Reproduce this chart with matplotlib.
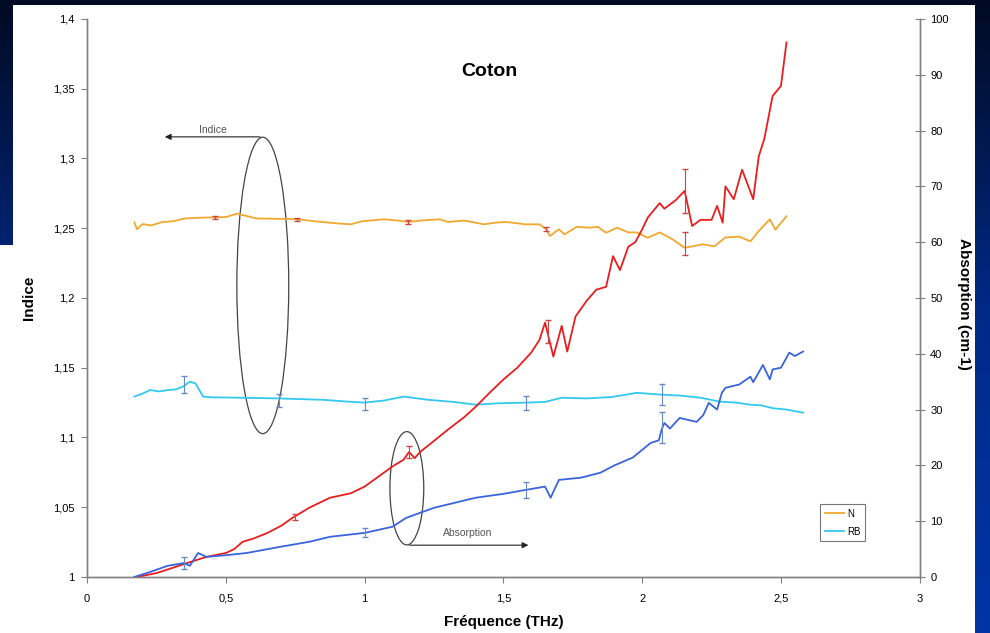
import matplotlib
matplotlib.use("Agg")
import matplotlib.pyplot as plt
import numpy as np
from matplotlib.patches import Ellipse, Rectangle
from matplotlib.ticker import FuncFormatter, MultipleLocator

plt.rcParams['font.family'] = ['Liberation Sans', 'DejaVu Sans']

# index N (orange)
freq_n_idx = [0.17, 0.18, 0.20, 0.23, 0.27, 0.31, 0.35, 0.40, 0.46, 0.50, 0.54, 0.57, 0.61,
              0.68, 0.755, 0.82, 0.90, 0.95, 0.99, 1.07, 1.12, 1.157, 1.20, 1.27, 1.30, 1.36,
              1.43, 1.47, 1.51, 1.58, 1.63, 1.655, 1.667, 1.70, 1.72, 1.764, 1.81, 1.84, 1.87,
              1.91, 1.95, 1.98, 2.02, 2.063, 2.11, 2.153, 2.18, 2.22, 2.26, 2.30, 2.35, 2.39,
              2.42, 2.46, 2.48, 2.52]
n_idx = [1.2542, 1.2492, 1.2530, 1.2520, 1.2544, 1.2550, 1.2570, 1.2575, 1.2578, 1.2580,
         1.2605, 1.2590, 1.2570, 1.2568, 1.2565, 1.2550, 1.2535, 1.2528, 1.2550, 1.2564,
         1.2555, 1.2545, 1.2555, 1.2564, 1.2545, 1.2555, 1.2528, 1.2540, 1.2545, 1.2528,
         1.2528, 1.2492, 1.2444, 1.2492, 1.2456, 1.2510, 1.2504, 1.2510, 1.2468, 1.2504,
         1.2470, 1.2470, 1.2432, 1.2470, 1.2420, 1.2360, 1.2370, 1.2385, 1.2370, 1.2434,
         1.2440, 1.2406, 1.2480, 1.2564, 1.2490, 1.2586]

# index RB (cyan)
freq_rb_idx = [0.17, 0.20, 0.227, 0.26, 0.29, 0.32, 0.346, 0.37, 0.39, 0.418, 0.45, 0.55,
               0.69, 0.85, 0.94, 1.0, 1.07, 1.14, 1.23, 1.32, 1.40, 1.48, 1.58, 1.65, 1.71,
               1.80, 1.89, 1.98, 2.07, 2.14, 2.21, 2.28, 2.34, 2.39, 2.43, 2.47, 2.52, 2.58]
rb_idx = [1.1293, 1.1315, 1.1340, 1.1330, 1.1340, 1.1345, 1.1365, 1.1400, 1.1388, 1.1293,
          1.1288, 1.1285, 1.1280, 1.1270, 1.1257, 1.1250, 1.1265, 1.1293, 1.1270, 1.1255,
          1.1235, 1.1245, 1.1250, 1.1255, 1.1285, 1.1280, 1.1290, 1.1320, 1.1307, 1.1300,
          1.1285, 1.1257, 1.1250, 1.1235, 1.1230, 1.1210, 1.1200, 1.1178]

# absorption N (red)
freq_n_abs = [0.18, 0.25, 0.30, 0.36, 0.43, 0.50, 0.53, 0.56, 0.60, 0.65, 0.70, 0.74, 0.80,
              0.875, 0.95, 1.0, 1.05, 1.10, 1.14, 1.16, 1.18, 1.20, 1.24, 1.30, 1.36, 1.40,
              1.45, 1.50, 1.55, 1.60, 1.63, 1.65, 1.68, 1.71, 1.73, 1.76, 1.80, 1.835, 1.87,
              1.895, 1.92, 1.95, 1.975, 2.0, 2.02, 2.063, 2.08, 2.12, 2.153, 2.18, 2.21, 2.25,
              2.27, 2.29, 2.30, 2.33, 2.36, 2.40, 2.42, 2.44, 2.47, 2.50, 2.52]
n_abs = [0, 0.7, 1.5, 2.5, 3.6, 4.3, 5.0, 6.3, 6.9, 7.9, 9.2, 10.6, 12.4, 14.2, 15.0, 16.2,
         18.0, 19.8, 21.0, 22.4, 21.3, 22.4, 24.0, 26.4, 28.7, 30.5, 33.0, 35.4, 37.5, 40.2,
         42.5, 45.6, 39.5, 45.0, 40.4, 46.7, 49.5, 51.5, 52.0, 57.5, 55.0, 59.2, 60.0, 62.3,
         64.4, 67.0, 66.0, 67.5, 69.2, 62.9, 64.0, 64.0, 66.5, 63.5, 70.0, 67.7, 73.0, 67.7,
         75.4, 78.5, 86.2, 88.0, 95.8]

# absorption RB (blue)
freq_rb_abs = [0.17, 0.227, 0.29, 0.35, 0.37, 0.40, 0.43, 0.50, 0.575, 0.695, 0.80, 0.875,
               1.0, 1.1, 1.15, 1.25, 1.4, 1.5, 1.58, 1.65, 1.67, 1.70, 1.78, 1.85, 1.90,
               1.966, 2.03, 2.06, 2.07, 2.08, 2.10, 2.135, 2.196, 2.22, 2.24, 2.27, 2.287,
               2.30, 2.35, 2.39, 2.40, 2.435, 2.46, 2.47, 2.50, 2.53, 2.55, 2.58]
rb_abs = [0, 0.9, 2.0, 2.5, 2.0, 4.3, 3.6, 3.9, 4.3, 5.4, 6.3, 7.2, 7.9, 9.0, 10.6, 12.4,
          14.2, 14.9, 15.6, 16.2, 14.2, 17.4, 17.8, 18.7, 20.0, 21.4, 24.0, 24.5, 26.4, 27.6,
          26.6, 28.5, 27.8, 29.0, 31.2, 30.0, 33.0, 33.9, 34.5, 35.9, 34.9, 38.0, 35.4, 37.2,
          37.5, 40.2, 39.6, 40.4]

# error bars
eb_n_idx_x = [0.46, 0.755, 1.157, 1.655, 2.153]
eb_n_idx_y = [1.2578, 1.2565, 1.2545, 1.2492, 1.2390]
eb_n_idx_e = [0.0012, 0.0010, 0.0012, 0.0015, 0.0080]
eb_rb_idx_x = [0.35, 0.69, 1.0, 1.58, 2.07]
eb_rb_idx_y = [1.1380, 1.1265, 1.1240, 1.1250, 1.1307]
eb_rb_idx_e = [0.0060, 0.0045, 0.0040, 0.0050, 0.0075]
eb_n_abs_x = [0.75, 1.16, 1.66, 2.153]
eb_n_abs_y = [10.8, 22.4, 44.0, 69.2]
eb_n_abs_e = [0.5, 1.0, 2.0, 4.0]
eb_rb_abs_x = [0.35, 1.0, 1.58, 2.07]
eb_rb_abs_y = [2.5, 7.9, 15.6, 26.8]
eb_rb_abs_e = [1.0, 0.8, 1.5, 2.8]

c_orange = '#F0A830'
c_cyan = '#33C8EE'
c_red = '#E81E1E'
c_blue = '#3A64DC'

fig = plt.figure(figsize=(9.9, 6.33), dpi=100)

# slide background (dark gradient) with the white chart image on top
bg = fig.add_axes([0, 0, 1, 1], zorder=-10)
grad = np.linspace(0, 1, 256).reshape(-1, 1)
cmap = matplotlib.colors.LinearSegmentedColormap.from_list('slide', ['#000a22', '#002a88', '#0035a5'])
bg.imshow(grad, aspect='auto', cmap=cmap, extent=[0, 1, 0, 1], origin='upper')
bg.add_patch(Rectangle((13 / 990, 0), (975 - 13) / 990, 628 / 633, color='white', lw=0))
bg.add_patch(Rectangle((0, 0), 14 / 990, (633 - 245) / 633, color='white', lw=0))
bg.set_xlim(0, 1)
bg.set_ylim(0, 1)
bg.axis('off')

ax = fig.add_axes([0.088, 0.0885, 0.841, 0.8815])
ax.patch.set_alpha(0)
ax2 = ax.twinx()

ax.plot(freq_n_idx, n_idx, color=c_orange, lw=1.3, label='N')
ax.plot(freq_rb_idx, rb_idx, color=c_cyan, lw=1.3, label='RB')
ax.errorbar(eb_n_idx_x, eb_n_idx_y, yerr=eb_n_idx_e, fmt='none', ecolor='#cc4444', elinewidth=0.8, capsize=2)
ax.errorbar(eb_rb_idx_x, eb_rb_idx_y, yerr=eb_rb_idx_e, fmt='none', ecolor='#6688cc', elinewidth=0.8, capsize=2)

ax2.plot(freq_n_abs, n_abs, color=c_red, lw=1.3)
ax2.plot(freq_rb_abs, rb_abs, color=c_blue, lw=1.3)
ax2.errorbar(eb_n_abs_x, eb_n_abs_y, yerr=eb_n_abs_e, fmt='none', ecolor='#cc4444', elinewidth=0.8, capsize=2)
ax2.errorbar(eb_rb_abs_x, eb_rb_abs_y, yerr=eb_rb_abs_e, fmt='none', ecolor='#6688cc', elinewidth=0.8, capsize=2)

ax.set_xlim(0, 3)
ax.set_ylim(1, 1.4)
ax2.set_ylim(0, 100)

comma = FuncFormatter(lambda v, p: ('%g' % round(v, 3)).replace('.', ','))
ax.xaxis.set_major_locator(MultipleLocator(0.5))
ax.yaxis.set_major_locator(MultipleLocator(0.05))
ax2.yaxis.set_major_locator(MultipleLocator(10))
ax.xaxis.set_major_formatter(comma)
ax.yaxis.set_major_formatter(comma)

for a in (ax, ax2):
    for s in a.spines.values():
        s.set_color('#808080')
        s.set_linewidth(1.0)
    a.spines['top'].set_visible(False)
ax.tick_params(axis='both', direction='out', length=4, color='#808080', labelsize=8, pad=5)
ax.tick_params(axis='x', pad=8)
ax2.tick_params(axis='y', direction='inout', length=7, color='#808080', labelsize=8, pad=4)

ax.set_xlabel('Fréquence (THz)', fontsize=11, fontweight='bold')
ax.xaxis.set_label_coords(0.5, -0.069)
ax.set_ylabel('Indice', fontsize=11, fontweight='bold')
ax.yaxis.set_label_coords(-0.061, 0.5)
ax2.set_ylabel('Absorption (cm-1)', fontsize=11, fontweight='bold', rotation=-90, va='center')
ax2.yaxis.set_label_coords(1.053, 0.49)

ax.text(1.45, 1.362, 'Coton', fontsize=14, fontweight='bold', ha='center', va='center')

# annotation: index ellipse + arrow
ax.add_patch(Ellipse((0.633, 1.209), 0.187, 0.2125, fill=False, ec='#444444', lw=0.9))
ax.annotate('', xy=(0.27, 1.3155), xytext=(0.633, 1.3155),
            arrowprops=dict(arrowstyle='-|>', color='#222222', lw=0.8, mutation_scale=9))
ax.text(0.455, 1.3205, 'Indice', fontsize=7.5, color='#555555', ha='center', va='center')

# annotation: absorption ellipse + arrow
ax2.add_patch(Ellipse((1.152, 15.9), 0.122, 20.3, fill=False, ec='#444444', lw=0.9))
ax2.annotate('', xy=(1.6, 5.7), xytext=(1.152, 5.7),
             arrowprops=dict(arrowstyle='-|>', color='#222222', lw=0.8, mutation_scale=9))
ax2.text(1.37, 7.8, 'Absorption', fontsize=7.5, color='#555555', ha='center', va='center')

leg = ax2.legend(handles=ax.get_lines()[:2], labels=['N', 'RB'], loc='lower left',
                 bbox_to_anchor=(0.874, 0.055), fontsize=7, frameon=True, fancybox=False,
                 handlelength=2.0, borderpad=0.5, labelspacing=0.8, handletextpad=0.3)
leg.get_frame().set_edgecolor('#555555')
leg.get_frame().set_linewidth(0.8)

fig.savefig('out.png', dpi=100)
